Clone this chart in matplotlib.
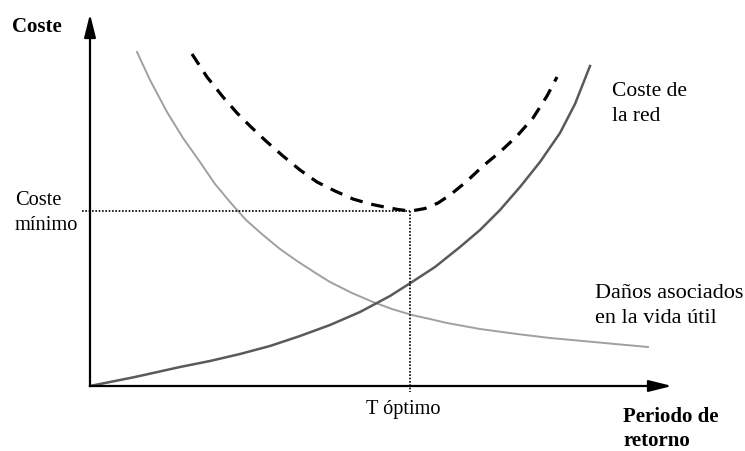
import numpy as np
import matplotlib.pyplot as plt

# curve points (x = periodo de retorno, y = coste), origin at axes corner
danos_t = [47, 60, 77, 93, 110, 125, 140, 156, 173, 190, 207, 224, 240, 262, 283, 302,
           322, 340, 357, 390, 427, 460, 493, 525, 558]
danos_c = [334, 306, 274, 248, 224, 202, 184, 166, 151, 137, 125, 114, 104, 93, 84, 77,
           71, 67, 63, 57, 52, 48, 45, 42, 39]

red_t = [0, 45, 90, 120, 150, 180, 210, 240, 270, 300, 322, 345, 370, 390, 410, 430,
         450, 470, 485, 500]
red_c = [0, 9, 19, 25, 32, 40, 50, 61, 74, 90, 104, 119, 139, 156, 176, 199,
         224, 253, 282, 320]

total_t = [102, 117, 133, 147, 160, 177, 193, 210, 227, 245, 263, 280, 297, 308, 316,
           324, 335, 348, 360, 376, 393, 410, 427, 443, 457, 467]
total_c = [332, 309, 289, 273, 260, 244, 230, 216, 204, 195, 187, 182, 178.5, 176.5, 175.5,
           175.5, 177.5, 183, 191, 204, 220, 234, 250, 268, 290, 309]

t_opt = 320
c_min = 175

plt.rcParams['font.family'] = ['Liberation Serif', 'DejaVu Serif']

fig = plt.figure(figsize=(7.45, 4.52), dpi=100)
ax = fig.add_axes([0, 0, 1, 1])
ax.set_xlim(-90, 655)
ax.set_ylim(-65, 387)
ax.axis('off')

ax.plot(danos_t, danos_c, color='#a0a0a0', lw=1.4)
ax.plot(red_t, red_c, color='#5a5a5a', lw=1.8)
ax.plot(total_t, total_c, color='black', lw=2.3, ls=(0, (4, 2.8)))

# guides to the optimum
ax.plot([-8, t_opt], [c_min, c_min], color='black', lw=1.2, ls=(0, (1, 1)))
ax.plot([t_opt, t_opt], [c_min, -6], color='black', lw=1.2, ls=(0, (1, 1)))

# axes with arrows
arrow = dict(arrowstyle='-|>,head_length=1.4,head_width=0.35', color='black', lw=1.6,
             shrinkA=0, shrinkB=0)
ax.annotate('', xy=(0, 372), xytext=(0, 0), arrowprops=arrow)
ax.annotate('', xy=(582, 0), xytext=(0, 0), arrowprops=arrow)

ax.text(-78, 360, 'Coste', fontsize=15, fontweight='bold', va='center', ha='left')
ax.text(-75, 174, 'Coste\nmínimo', fontsize=14.7, va='center', ha='left', linespacing=1.4)
ax.text(313, -23, 'T óptimo', fontsize=14.6, va='center', ha='center')
ax.text(533, -42, 'Periodo de\nretorno', fontsize=15, fontweight='bold',
        va='center', ha='left', linespacing=1.3)
ax.text(522, 283, 'Coste de\nla red', fontsize=15.5, va='center', ha='left', linespacing=1.46)
ax.text(505, 81, 'Daños asociados\nen la vida útil', fontsize=16, va='center',
        ha='left', linespacing=1.42)

fig.savefig('out.png', dpi=100)
